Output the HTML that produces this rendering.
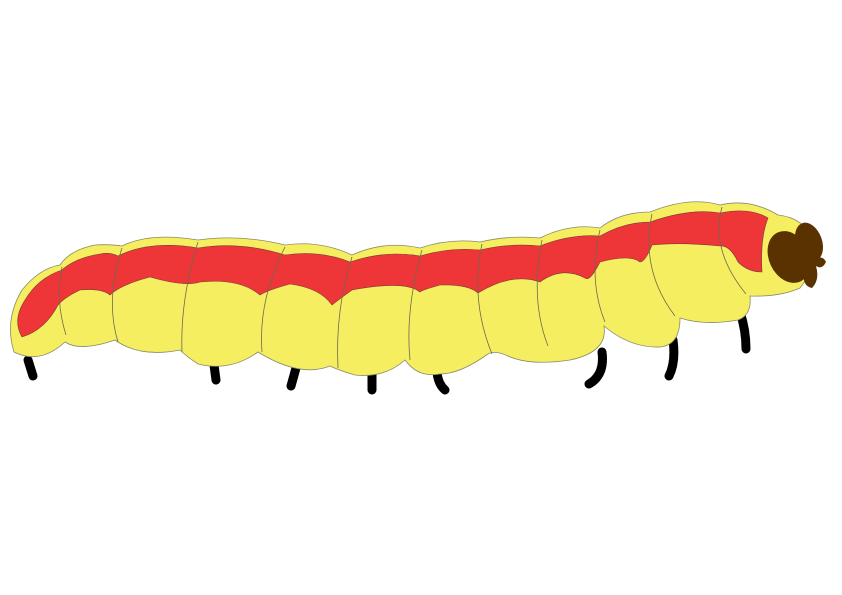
<!DOCTYPE html>
<html><head><meta charset="utf-8"><style>html,body{margin:0;padding:0;background:#fff}svg{display:block}</style></head>
<body>
<svg width="842" height="595" viewBox="0 0 842 595" xmlns="http://www.w3.org/2000/svg">
<g stroke="#000" stroke-width="9" stroke-linecap="round" fill="none">
<path d="M28 360 L33 376"/>
<path d="M214 365 L216 380"/>
<path d="M296 368 L291 386"/>
<path d="M372 372 L372 390"/>
<path d="M437 372 Q438 384 445 390"/>
<path d="M602 352 Q605 375 589 384"/>
<path d="M673 340 Q676 362 669 376"/>
<path d="M740 312 Q746 330 746 349"/>
</g>
<path fill="#f5ee60" stroke="#8a8a6a" stroke-width="0.8"
d="M14 352 Q4 320 22 290 Q40 268 60 265 Q70 250 95 245 Q110 244 122 246 Q150 232 198 240 Q240 234 285 245 Q320 240 352 255 Q385 240 420 248 Q450 238 480 242 Q510 235 540 238 Q570 223 600 228 Q620 212 650 212 Q690 196 720 205 Q750 198 778 215 Q805 218 812 240 Q815 270 800 288 Q780 297 750 296 Q752 315 738 320 Q705 326 680 318 Q680 345 660 347 Q630 348 604 326 Q608 352 570 360 Q530 366 508 356 Q495 350 488 354 Q460 374 440 374 Q418 378 405 360 Q385 378 355 375 Q338 370 330 366 Q300 378 258 352 Q230 372 198 364 Q186 356 180 350 Q140 358 115 340 Q80 352 65 342 Q40 365 14 352 Z"/>
<path fill="#ee3538" stroke="#7a3a3a" stroke-width="0.6"
d="M22 337 Q12 320 25 300 Q38 278 62 270 Q75 258 100 254 Q110 252 118 256 Q150 240 198 248 Q240 241 285 255 Q320 250 350 262 Q385 250 420 256 Q450 247 480 250 Q510 243 540 246 Q570 234 600 236 Q625 222 650 222 Q690 208 720 213 Q750 207 768 218 Q760 238 762 272 Q748 272 738 262 Q730 245 720 246 Q680 242 652 245 Q645 262 640 262 Q630 254 600 262 Q590 282 585 278 Q562 266 540 282 Q512 272 478 293 Q468 284 440 285 Q422 290 420 292 Q405 280 352 290 Q338 300 332 305 Q320 288 290 284 Q268 290 260 295 Q240 278 200 282 Q185 287 150 277 Q120 285 110 295 Q102 288 80 290 Q65 297 58 305 Q45 330 22 337 Z"/>
<g stroke="#6f6a50" stroke-width="0.8" fill="none">
<path d="M62 267 Q55 300 66 335"/>
<path d="M122 248 Q105 300 118 342"/>
<path d="M198 242 Q180 300 182 352"/>
<path d="M285 247 Q258 300 262 352"/>
<path d="M352 257 Q335 310 338 368"/>
<path d="M422 250 Q405 310 410 360"/>
<path d="M482 244 Q470 300 492 354"/>
<path d="M542 240 Q530 300 548 346"/>
<path d="M600 230 Q588 280 605 322"/>
<path d="M652 214 Q640 270 675 316"/>
<path d="M722 207 Q710 250 746 294"/>
</g>
<g fill="#5a3200">
<ellipse cx="789" cy="257" rx="20" ry="27" transform="rotate(-25 789 257)"/>
<ellipse cx="809" cy="242" rx="13" ry="20" transform="rotate(-20 809 242)"/>
<path d="M806 264 Q822 252 826 262 Q822 270 816 266 Q820 280 812 288 Q802 286 804 272 Z"/>
</g>
</svg>
</body></html>
